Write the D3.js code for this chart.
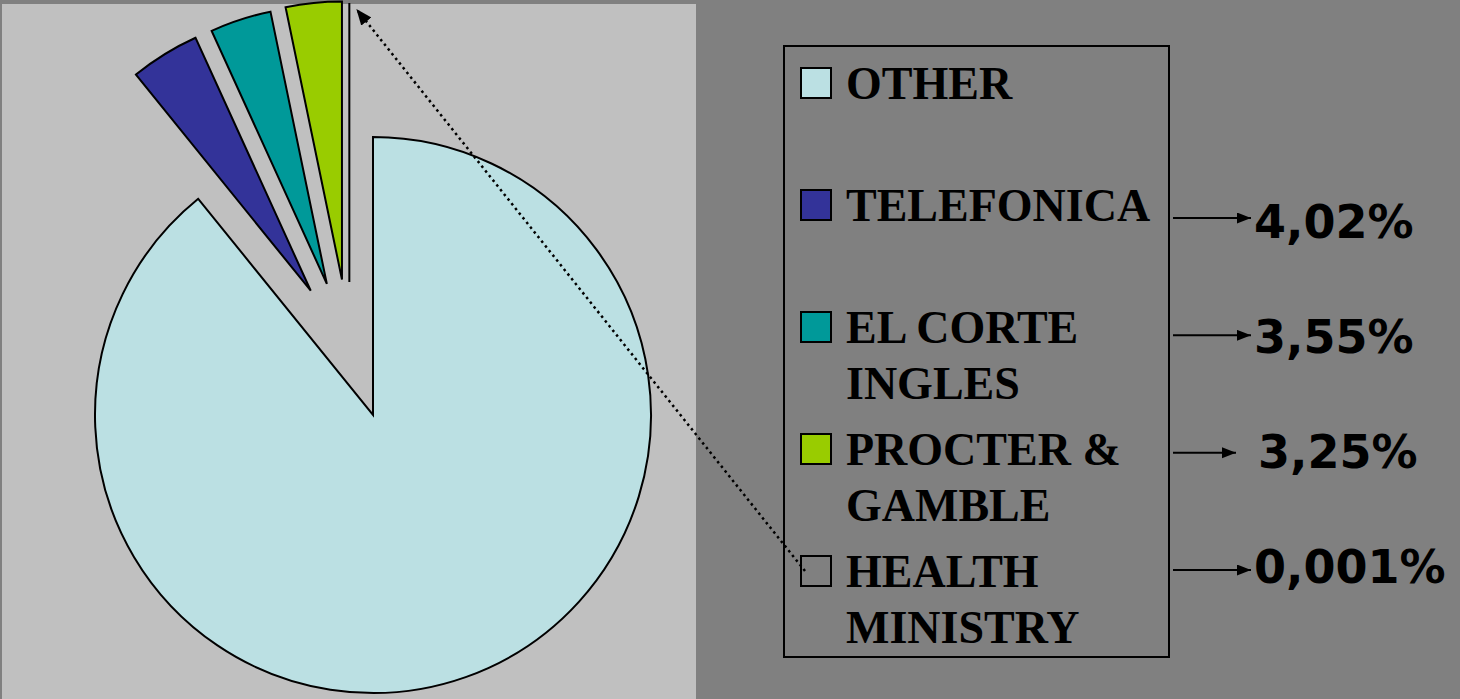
<!DOCTYPE html>
<html>
<head>
<meta charset="utf-8">
<script src="https://cdn.jsdelivr.net/npm/d3@7"></script>
<style>
    body {margin: 0; background: #808080;}
    svg {display: block;}
    .legend text {font-family: "Liberation Serif", "Times New Roman", serif; font-weight: bold; font-size: 46px;}
    .pct {font-family: "DejaVu Sans", Verdana, sans-serif; font-weight: bold; font-size: 46px; white-space: pre;}
</style>
</head>
<body>
<svg id="chart" width="1460" height="699"></svg>
<script>
// data
var categories = ["OTHER", "TELEFONICA", "EL CORTE INGLES", "PROCTER & GAMBLE", "HEALTH MINISTRY"];
var legendLines = [["OTHER"], ["TELEFONICA"], ["EL CORTE", "INGLES"], ["PROCTER &", "GAMBLE"], ["HEALTH", "MINISTRY"]];
var shares = [89.179, 4.02, 3.55, 3.25, 0.001];
var pctLabels = ["4,02%", "3,55%", " 3,25%", "0,001%"];
var colors = ["#bbe0e3", "#333399", "#009999", "#99cc00", "none"];

var svg = d3.select("#chart");
var W = 1460, H = 699;

svg.append("rect").attr("width", W).attr("height", H).attr("fill", "#808080");

// plot area
svg.append("rect")
    .attr("x", 2).attr("y", 4)
    .attr("width", 694).attr("height", 695)
    .attr("fill", "#c0c0c0");

var defs = svg.append("defs");
function marker(id, len, wid) {
    defs.append("marker")
        .attr("id", id)
        .attr("markerUnits", "userSpaceOnUse")
        .attr("markerWidth", len + 1).attr("markerHeight", wid + 1)
        .attr("refX", len).attr("refY", wid / 2)
        .attr("orient", "auto")
      .append("path")
        .attr("d", "M0,0L" + len + "," + (wid / 2) + "L0," + wid + "Z")
        .attr("fill", "#000");
}
marker("head", 14, 11);
marker("bighead", 16, 13);

var cx = 373, cy = 415, radius = 278, explode = 139;

var pie = d3.pie().sort(null).value(function(d) {return d});
var arc = d3.arc().innerRadius(0).outerRadius(radius);
var arcs = pie(shares);

// exploded slices are pushed out, direction a bit left of their bisector
function offset(d) {
    if (d.index === 0) return [0, 0];
    var m = (d.startAngle + d.endAngle) / 2 - 2 * Math.PI;
    var a = 0.53 * m - 0.171;
    return [explode * Math.sin(a), -explode * Math.cos(a)];
}

var g = svg.append("g").attr("transform", "translate(" + cx + "," + cy + ")");

g.selectAll("path.slice")
    .data(arcs)
    .enter()
    .append("path")
    .attr("class", "slice")
    .attr("transform", function(d) {var o = offset(d); return "translate(" + o[0] + "," + (o[1] + (d.index === 4 ? 4 : 0)) + ")"})
    .attr("d", arc)
    .attr("fill", function(d, i) {return colors[i]})
    .attr("stroke", "#000")
    .attr("stroke-width", 2)
    .attr("stroke-linejoin", "miter");

// legend
var legX = 784, legY = 46, legW = 385, legH = 611;
var itemY = d3.scalePoint().domain(categories).range([99, 587]);
var lineGap = 56;

svg.append("rect")
    .attr("x", legX).attr("y", legY)
    .attr("width", legW).attr("height", legH)
    .attr("fill", "none")
    .attr("stroke", "#000")
    .attr("stroke-width", 2);

var leg = svg.append("g").attr("class", "legend")
    .selectAll("g")
    .data(categories)
    .enter()
    .append("g");

leg.append("rect")
    .attr("x", 801)
    .attr("y", function(d) {return itemY(d) - 31})
    .attr("width", 30).attr("height", 30)
    .attr("fill", function(d, i) {return colors[i]})
    .attr("stroke", "#000")
    .attr("stroke-width", 2);

leg.append("text")
    .attr("x", 846)
    .attr("y", function(d) {return itemY(d)})
    .selectAll("tspan")
    .data(function(d, i) {return legendLines[i]})
    .enter()
    .append("tspan")
    .attr("x", 846)
    .attr("dy", function(d, j) {return j ? lineGap : 0})
    .text(function(d) {return d});

// percentage call-outs
var pctY = d3.scalePoint().domain(pctLabels).range([238, 583]);
var arrowY = d3.scalePoint().domain(pctLabels).range([218, 570]);

var pct = svg.append("g").selectAll("g")
    .data(pctLabels)
    .enter()
    .append("g");

pct.append("line")
    .attr("x1", 1173)
    .attr("x2", function(d) {return d.charAt(0) === " " ? 1236 : 1251})
    .attr("y1", function(d) {return arrowY(d)})
    .attr("y2", function(d) {return arrowY(d)})
    .attr("stroke", "#000")
    .attr("stroke-width", 2)
    .attr("marker-end", "url(#head)");

pct.append("text")
    .attr("class", "pct")
    .attr("x", function(d) {return d.charAt(0) === " " ? 1242 : 1254})
    .attr("y", function(d) {return pctY(d)})
    .text(function(d) {return d});

// dotted pointer from the HEALTH MINISTRY legend box to its sliver
var h = arcs[4], ho = offset(h);
svg.append("line")
    .attr("x1", 805).attr("y1", 571)
    .attr("x2", cx + ho[0] + 7).attr("y2", cy + ho[1] - radius + 9)
    .attr("stroke", "#000")
    .attr("stroke-width", 2.5)
    .attr("stroke-dasharray", "2.5,3.5")
    .attr("marker-end", "url(#bighead)");
</script>
</body>
</html>
